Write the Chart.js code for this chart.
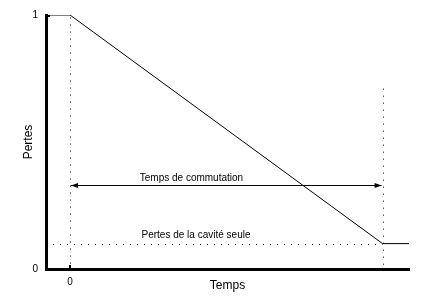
<!DOCTYPE html>
<html>
<head>
<meta charset="utf-8">
<script src="https://cdn.jsdelivr.net/npm/chart.js@4/dist/chart.umd.min.js"></script>
<style>
html,body{margin:0;padding:0;background:#fff;}
#wrap{width:431px;height:300px;position:relative;}
</style>
</head>
<body>
<div id="wrap"><canvas id="c" width="431" height="300"></canvas></div>
<script>
// ---- data ----
const timeValues = [-1, 0, 13, 14.1];
const lossValues = [1, 1, 0.1, 0.1];
const yTickValues = [0, 0.5, 1];
const yTickLabels = ['0', '', '1'];
const xTickValues = [0];
const xTickLabels = ['0'];
const switchStart = 0;
const switchEnd = 13;
const cavityLoss = 0.1;
const switchLabel = 'Temps de commutation';
const cavityLabel = 'Pertes de la cavité seule';
const xTitle = 'Temps';
const yTitle = 'Pertes';

const FONT = "'Liberation Sans', Arial, sans-serif";

const annot = {
  id: 'annot',
  afterDatasetsDraw(chart) {
    const ctx = chart.ctx;
    const xs = chart.scales.x, ys = chart.scales.y;
    const X = v => xs.getPixelForValue(v);
    const Y = v => ys.getPixelForValue(v);
    ctx.save();
    // dotted lines
    ctx.strokeStyle = '#000';
    ctx.lineWidth = 1;
    ctx.setLineDash([1, 6]);
    ctx.beginPath();
    ctx.moveTo(Math.round(X(switchStart)) + 0.5, Y(0.99));
    ctx.lineTo(Math.round(X(switchStart)) + 0.5, Y(0));
    ctx.moveTo(Math.round(X(switchEnd)) + 0.5, Y(0.71));
    ctx.lineTo(Math.round(X(switchEnd)) + 0.5, Y(0));
    ctx.moveTo(X(-1), Math.round(Y(cavityLoss)) + 0.5);
    ctx.lineTo(X(switchEnd), Math.round(Y(cavityLoss)) + 0.5);
    ctx.stroke();
    ctx.setLineDash([]);
    // double arrow
    const ay = Math.round(Y(0.33)) + 0.5;
    const x1 = X(switchStart) + 1, x2 = X(switchEnd) - 1;
    ctx.beginPath();
    ctx.moveTo(x1, ay); ctx.lineTo(x2, ay); ctx.stroke();
    ctx.fillStyle = '#000';
    ctx.beginPath();
    ctx.moveTo(x1, ay); ctx.lineTo(x1 + 7, ay - 2.5); ctx.lineTo(x1 + 7, ay + 2.5); ctx.closePath(); ctx.fill();
    ctx.beginPath();
    ctx.moveTo(x2, ay); ctx.lineTo(x2 - 7, ay - 2.5); ctx.lineTo(x2 - 7, ay + 2.5); ctx.closePath(); ctx.fill();
    // texts
    ctx.font = '10px ' + FONT;
    ctx.textAlign = 'center';
    ctx.textBaseline = 'middle';
    ctx.fillText(switchLabel, X(5.05), Y(0.358));
    ctx.fillText(cavityLabel, X(5.24), Y(0.134));
    // inside tick marks
    const left = xs.left, bottom = ys.bottom;
    ctx.fillRect(left, Math.round(Y(1)), 4, 2);
    ctx.fillRect(left, Math.round(Y(0.5)), 2, 2);
    ctx.fillRect(Math.round(X(0)) - 1, bottom - 4, 2, 4);
    ctx.restore();
  }
};

new Chart(document.getElementById('c'), {
  type: 'line',
  data: {
    datasets: [{
      data: timeValues.map((t, i) => ({x: t, y: lossValues[i]})),
      borderColor: '#000',
      borderWidth: 1,
      pointRadius: 0,
      tension: 0,
      fill: false
    }]
  },
  options: {
    responsive: false,
    animation: false,
    devicePixelRatio: 1,
    layout: {padding: {top: 15, right: 22, left: 0, bottom: 0}},
    plugins: {legend: {display: false}, tooltip: {enabled: false}},
    scales: {
      x: {
        type: 'linear', min: -1, max: 14.1,
        afterBuildTicks: s => { s.ticks = xTickValues.map(v => ({value: v})); },
        afterFit: s => { s.height = 31; },
        grid: {display: false, drawTicks: false},
        border: {display: true, color: '#000', width: 3},
        ticks: {
          padding: 7, color: '#000', font: {family: FONT, size: 10},
          callback: (v) => { const i = xTickValues.indexOf(v); return i >= 0 ? xTickLabels[i] : ''; }
        },
        title: {display: true, text: xTitle, color: '#000', font: {family: FONT, size: 12}, padding: {top: 0, bottom: 7}}
      },
      y: {
        type: 'linear', min: 0, max: 1,
        afterBuildTicks: s => { s.ticks = yTickValues.map(v => ({value: v})); },
        afterFit: s => { s.width = 46; },
        grid: {display: false, drawTicks: false},
        border: {display: true, color: '#000', width: 3},
        ticks: {
          padding: 8, color: '#000', font: {family: FONT, size: 10},
          callback: (v) => { const i = yTickValues.indexOf(v); return i >= 0 ? yTickLabels[i] : ''; }
        },
        title: {display: true, text: yTitle, color: '#000', font: {family: FONT, size: 12}, padding: {top: 21, bottom: 0}}
      }
    }
  },
  plugins: [annot]
});
</script>
</body>
</html>
